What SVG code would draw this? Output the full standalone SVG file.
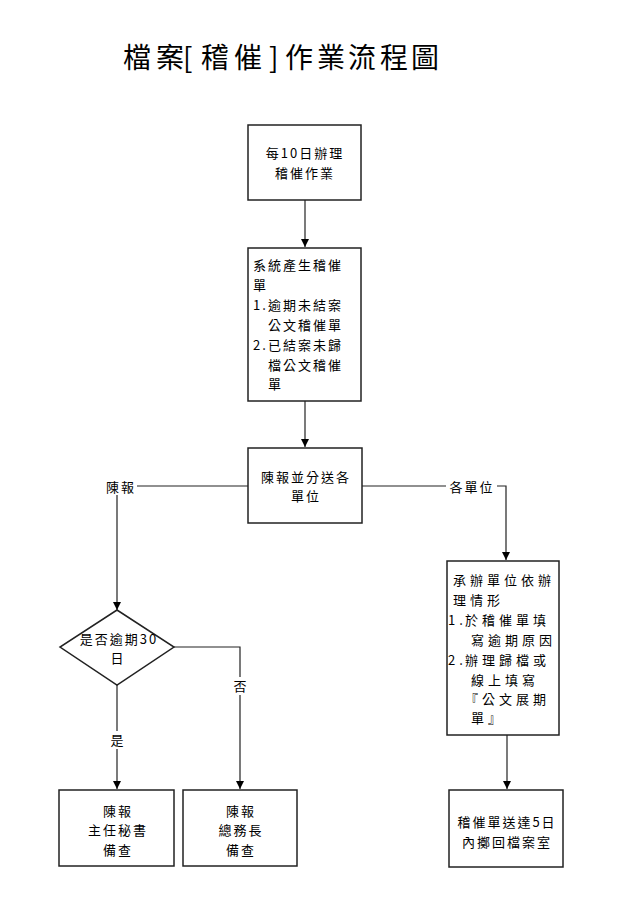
<svg xmlns="http://www.w3.org/2000/svg" width="622" height="916" viewBox="0 0 622 916">
<defs>
<marker id="arr" viewBox="0 0 8 8" refX="8" refY="4" markerWidth="8" markerHeight="8" markerUnits="userSpaceOnUse" orient="auto">
<path d="M0,0 L8,4 L0,8 Z" fill="#000"/>
</marker>
<style>
text{font-family:"Noto Sans CJK TC","Noto Sans CJK SC",sans-serif;fill:#000;}
.box{fill:#fff;stroke:#222;stroke-width:1.5;}
.t{font-size:13px;letter-spacing:2px;}
.tc{font-size:13px;letter-spacing:2px;text-anchor:middle;}
.t4{font-size:13px;letter-spacing:4px;}
.ln{fill:none;stroke:#222;stroke-width:1.2;}
.lbl{font-size:13px;letter-spacing:2px;text-anchor:middle;}
.bg{fill:#fff;}
</style>
</defs>
<rect width="622" height="916" fill="#fff"/>
<text y="68" font-size="28" x="123 156 183 201 234 269 285 317 348 380 411">檔案[稽催]作業流程圖</text>

<g id="connectors">
<path class="ln" d="M305,200 V247" marker-end="url(#arr)"/>
<path class="ln" d="M305,401 V447" marker-end="url(#arr)"/>
<path class="ln" d="M248,486 H117 V610" marker-end="url(#arr)"/>
<path class="ln" d="M362,486 H506 V560" marker-end="url(#arr)"/>
<path class="ln" d="M174,647 H240 V789" marker-end="url(#arr)"/>
<path class="ln" d="M117,685 V789" marker-end="url(#arr)"/>
<path class="ln" d="M507,735 V789" marker-end="url(#arr)"/>
<rect class="bg" x="103" y="478" width="34" height="17"/>
<text class="lbl" x="121" y="492">陳報</text>
<rect class="bg" x="446" y="478" width="51" height="17"/>
<text class="lbl" x="472" y="492">各單位</text>
<rect class="bg" x="232" y="677" width="16" height="18"/>
<text class="lbl" x="241" y="691">否</text>
<rect class="bg" x="109" y="731" width="16" height="18"/>
<text class="lbl" x="118" y="745">是</text>
</g>

<g id="n1">
<rect class="box" x="248" y="125" width="113" height="75"/>
<text class="tc" x="305" y="158">每10日辦理</text>
<text class="tc" x="305" y="178">稽催作業</text>
</g>

<g id="n2">
<rect class="box" x="248" y="248" width="113" height="153"/>
<text class="t" x="253" y="270">系統產生稽催</text>
<text class="t" x="253" y="290">單</text>
<text class="t" x="253" y="310">1.</text>
<text class="t" x="268" y="310">逾期未結案</text>
<text class="t" x="268" y="330">公文稽催單</text>
<text class="t" x="253" y="350">2.</text>
<text class="t" x="268" y="350">已結案未歸</text>
<text class="t" x="268" y="370">檔公文稽催</text>
<text class="t" x="268" y="389">單</text>
</g>

<g id="n3">
<rect class="box" x="248" y="448" width="114" height="75"/>
<text class="tc" x="306" y="482">陳報並分送各</text>
<text class="tc" x="306" y="501">單位</text>
</g>

<g id="n4">
<path class="box" d="M117,610 L174,647 L117,685 L60,647 Z"/>
<text class="tc" x="119" y="644">是否逾期30</text>
<text class="tc" x="118" y="663">日</text>
</g>

<g id="n5">
<rect class="box" x="447" y="561" width="112" height="174"/>
<text class="t4" x="453" y="585">承辦單位依辦</text>
<text class="t4" x="453" y="605">理情形</text>
<text class="t4" x="448" y="625">1.</text>
<text class="t4" x="465" y="625">於稽催單填</text>
<text class="t4" x="471" y="645">寫逾期原因</text>
<text class="t4" x="448" y="665">2.</text>
<text class="t4" x="465" y="665">辦理歸檔或</text>
<text class="t4" x="471" y="685">線上填寫</text>
<text class="t4" x="465" y="704">『公文展期</text>
<text class="t4" x="471" y="723">單』</text>
</g>

<g id="n6">
<rect class="box" x="59" y="790" width="115" height="76"/>
<text class="tc" x="118" y="816">陳報</text>
<text class="tc" x="118" y="835">主任秘書</text>
<text class="tc" x="118" y="855">備查</text>
</g>

<g id="n7">
<rect class="box" x="183" y="790" width="114" height="76"/>
<text class="tc" x="241" y="816">陳報</text>
<text class="tc" x="241" y="835">總務長</text>
<text class="tc" x="241" y="855">備查</text>
</g>

<g id="n8">
<rect class="box" x="449" y="790" width="114" height="77"/>
<text class="tc" x="507" y="827">稽催單送達5日</text>
<text class="tc" x="507" y="847">內擲回檔案室</text>
</g>
</svg>
